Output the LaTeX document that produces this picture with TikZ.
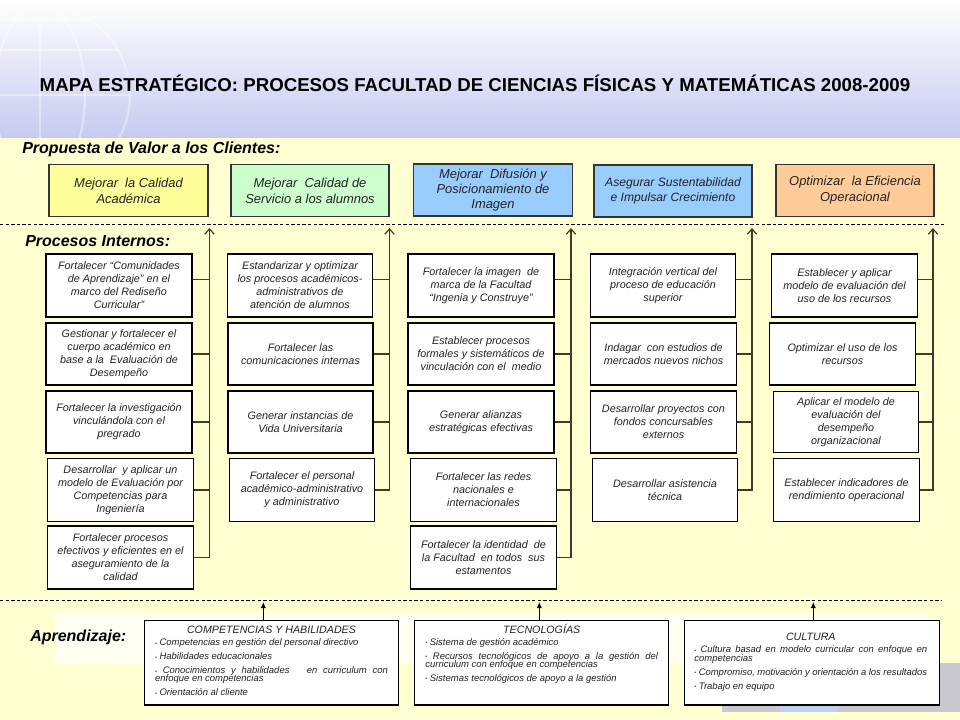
\documentclass[tikz,border=0pt]{standalone}
\usepackage{fontspec}
\setmainfont{Liberation Sans}
\usetikzlibrary{arrows.meta,calc}
\definecolor{bgyel}{RGB}{255,255,210}
\definecolor{hdrlav}{RGB}{198,202,240}
\definecolor{cyel}{RGB}{255,255,153}
\definecolor{cgrn}{RGB}{204,255,204}
\definecolor{cblu}{RGB}{153,204,255}
\definecolor{corg}{RGB}{255,204,153}
\definecolor{linec}{RGB}{64,58,38}
\definecolor{txt}{RGB}{35,35,35}
\definecolor{decgray}{RGB}{200,200,206}
\definecolor{decblue}{RGB}{188,210,244}
\newcommand{\itm}{\raisebox{0.5pt}{\scalebox{0.55}{•}}~}
\newcommand{\lset}{\parindent=0pt\lineskiplimit=-20pt\lineskip=0pt\parskip=4.4pt\relax}
\newcommand{\ltitle}[1]{{\centering\fontsize{8}{6.1}\selectfont #1\par}}
\begin{document}
\begin{tikzpicture}[x=0.75pt,y=-0.75pt,
  sz/.style 2 args={minimum width=#1*0.75pt, minimum height=#2*0.75pt},
  pbox/.style={draw=black, line width=0.8pt, fill=white, text=txt, inner sep=0pt, align=center,
    font=\fontsize{8.1}{9.75}\selectfont\itshape},
  vbox/.style={draw=black!80, line width=0.8pt, text=txt, inner sep=0pt, align=center,
    font=\fontsize{9.7}{12}\selectfont\itshape},
  lbox/.style={draw=black, line width=0.8pt, fill=white, inner sep=0pt},
  ltext/.style={anchor=base, inner sep=0pt, text width=174.5pt, align=justify, text=txt,
    font=\fontsize{7.1}{6.1}\selectfont\itshape},
  sect/.style={anchor=base west, inner sep=0pt, font=\fontsize{12}{14}\selectfont\bfseries\itshape},
  conn/.style={draw=linec, line width=0.9pt},
  uparr/.style={conn, -{Straight Barb[length=4pt,width=7pt]}},
  smarr/.style={draw=black, line width=0.8pt, -{Latex[length=4.5pt,width=4pt]}},
  dashline/.style={draw=black, line width=0.75pt, dash pattern=on 2.6pt off 1.6pt}]

\useasboundingbox (0,0) rectangle (960,720);
% background
\fill[bgyel] (0,0) rectangle (960,720);
\shade[top color=white, bottom color=hdrlav] (0,0) rectangle (960,138);
\begin{scope}
  \clip (0,0) rectangle (960,138);
  \draw[white, opacity=0.4, line width=1.6pt] (40,95) circle [radius=90];
  \draw[white, opacity=0.4, line width=1.6pt] (40,95) ellipse [x radius=45, y radius=90];
  \draw[white, opacity=0.4, line width=1.6pt] (40,5) -- (40,185);
  \begin{scope}
    \clip (40,95) circle [radius=90];
    \draw[white, opacity=0.4, line width=1.6pt] (-60,50) -- (140,50) (-60,95) -- (140,95) (-60,20) -- (140,20);
  \end{scope}
\end{scope}
\fill[decgray] (722,663) rectangle (960,712);
\fill[decblue] (780,663) rectangle (838,712);
\fill[white, opacity=0.7] (55,613) rectangle (928,663);

% title and section labels
\node[anchor=base, inner sep=0pt, font=\fontsize{14}{16}\selectfont\bfseries] (title) at (475,91.5)
  {MAPA ESTRATÉGICO: PROCESOS FACULTAD DE CIENCIAS FÍSICAS Y MATEMÁTICAS 2008-2009};
\node[sect] (s1) at (22,154) {Propuesta de Valor a los Clientes:};
\node[sect] (s2) at (25,246.5) {Procesos Internos:};
\node[sect] (s3) at (30,641) {Aprendizaje:};

% separators
\draw[dashline] (0,225) -- (946,225);
\draw[dashline] (0,600.5) -- (942,600.5);

% value boxes
\node[vbox, fill=cyel, sz={159}{52}] (v1) at (128.5,190.5) {Mejorar\ \ la Calidad\\Académica};
\node[vbox, fill=cgrn, sz={158}{52}] (v2) at (310,190.5) {Mejorar\ \ Calidad de\\Servicio a los alumnos};
\node[vbox, fill=cblu, sz={159}{52}, font=\fontsize{9.7}{11.3}\selectfont\itshape] (v3) at (493,190) {Mejorar\ \ Difusión y\\Posicionamiento de\\Imagen};
\node[vbox, fill=cblu, sz={158}{52}, font=\fontsize{9.1}{11.2}\selectfont\itshape] (v4) at (673,191) {Asegurar Sustentabilidad\\e Impulsar Crecimiento};
\node[vbox, fill=corg, sz={158}{52}] (v5) at (855,190.5) {Optimizar\ \ la Eficiencia\\Operacional};

% arrow tips
\coordinate (a1) at (209.5,228);
\coordinate (a2) at (389.5,228);
\coordinate (a3) at (571,228);
\coordinate (a4) at (752,228);
\coordinate (a5) at (933,228);

% column 1
\node[pbox, sz={146}{63}] (c1r1) at (119,285.5) {Fortalecer “Comunidades\\de Aprendizaje” en el\\marco del Rediseño\\Curricular”};
\node[pbox, sz={146}{62}] (c1r2) at (119,354) {Gestionar y fortalecer el\\cuerpo académico en\\base a la\ \ Evaluación de\\Desempeño};
\node[pbox, sz={146}{62}] (c1r3) at (119,422) {Fortalecer la investigación\\vinculándola con el\\pregrado};
\node[pbox, sz={146}{63}] (c1r4) at (120.5,490) {Desarrollar\ \ y aplicar un\\modelo de Evaluación por\\Competencias para\\Ingeniería};
\node[pbox, sz={146}{63}] (c1r5) at (120.5,557.5) {Fortalecer procesos\\efectivos y eficientes en el\\aseguramiento de la\\calidad};

% column 2
\node[pbox, sz={145}{63}] (c2r1) at (300,285.5) {Estandarizar y optimizar\\los procesos académicos-\\administrativos de\\atención de alumnos};
\node[pbox, sz={145}{62}] (c2r2) at (300.5,354) {Fortalecer las\\comunicaciones internas};
\node[pbox, sz={145}{62}] (c2r3) at (300.5,422) {Generar instancias de\\Vida Universitaria};
\node[pbox, sz={145}{63}] (c2r4) at (302,490) {Fortalecer el personal\\académico-administrativo\\y administrativo};

% column 3
\node[pbox, sz={146}{63}] (c3r1) at (481,285.5) {Fortalecer la imagen\ \ de\\marca de la Facultad\\“Ingenia y Construye”};
\node[pbox, sz={146}{62}] (c3r2) at (481,354) {Establecer procesos\\formales y sistemáticos de\\vinculación con el\ \ medio};
\node[pbox, sz={146}{62}] (c3r3) at (481,422) {Generar alianzas\\estratégicas efectivas};
\node[pbox, sz={146}{63}] (c3r4) at (483.5,490) {Fortalecer las redes\\nacionales e\\internacionales};
\node[pbox, sz={146}{63}] (c3r5) at (483.5,557.5) {Fortalecer la identidad\ \ de\\la Facultad\ \ en todos\ \ sus\\estamentos};

% column 4
\node[pbox, sz={145}{63}] (c4r1) at (663,285.5) {Integración vertical del\\proceso de educación\\superior};
\node[pbox, sz={146}{62}] (c4r2) at (663.5,354) {Indagar\ \ con estudios de\\mercados nuevos nichos};
\node[pbox, sz={146}{62}] (c4r3) at (663.5,422) {Desarrollar proyectos con\\fondos concursables\\externos};
\node[pbox, sz={145}{63}] (c4r4) at (665,490) {Desarrollar asistencia\\técnica};

% column 5
\node[pbox, sz={146}{63}] (c5r1) at (844.5,285.5) {Establecer y aplicar\\modelo de evaluación del\\uso de los recursos};
\node[pbox, sz={146}{62}] (c5r2) at (842.5,354) {Optimizar el uso de los\\recursos};
\node[pbox, sz={145}{61}] (c5r3) at (846,422) {Aplicar el modelo de\\evaluación del\\desempeño\\organizacional};
\node[pbox, sz={146}{63}] (c5r4) at (846.5,490) {Establecer indicadores de\\rendimiento operacional};

% connectors column 1
\draw[conn] ([yshift=4.5pt]c1r1.east) -- ([yshift=4.5pt]c1r1.east -| a1);
\draw[conn] (c1r2.east) -- (c1r2.east -| a1);
\draw[conn] (c1r3.east) -- (c1r3.east -| a1);
\draw[conn] (c1r4.east) -- (c1r4.east -| a1);
\draw[uparr] (c1r5.east) -- (c1r5.east -| a1) -- (a1);
% column 2
\draw[conn] ([yshift=4.5pt]c2r1.east) -- ([yshift=4.5pt]c2r1.east -| a2);
\draw[conn] (c2r2.east) -- (c2r2.east -| a2);
\draw[conn] (c2r3.east) -- (c2r3.east -| a2);
\draw[uparr] (c2r4.east) -- (c2r4.east -| a2) -- (a2);
% column 3
\draw[conn] ([yshift=4.5pt]c3r1.east) -- ([yshift=4.5pt]c3r1.east -| a3);
\draw[conn] (c3r2.east) -- (c3r2.east -| a3);
\draw[conn] (c3r3.east) -- (c3r3.east -| a3);
\draw[conn] (c3r4.east) -- (c3r4.east -| a3);
\draw[uparr] (c3r5.east) -- (c3r5.east -| a3) -- (a3);
% column 4
\draw[conn] ([yshift=4.5pt]c4r1.east) -- ([yshift=4.5pt]c4r1.east -| a4);
\draw[conn] (c4r2.east) -- (c4r2.east -| a4);
\draw[conn] (c4r3.east) -- (c4r3.east -| a4);
\draw[uparr] (c4r4.east) -- (c4r4.east -| a4) -- (a4);
% column 5
\draw[conn] ([yshift=4.5pt]c5r1.east) -- ([yshift=4.5pt]c5r1.east -| a5);
\draw[conn] (c5r2.east) -- (c5r2.east -| a5);
\draw[conn] (c5r3.east) -- (c5r3.east -| a5);
\draw[uparr] (c5r4.east) -- (c5r4.east -| a5) -- (a5);

% learning boxes
\node[lbox, sz={254}{84.3}] (l1) at (271.3,662.85) {};
\node[lbox, sz={254}{84.3}] (l2) at (541.2,662.85) {};
\node[lbox, sz={254.7}{84.3}] (l3) at (811.7,662.85) {};

\node[ltext] (l1c) at (271.5,633.8) {\lset\ltitle{COMPETENCIAS Y HABILIDADES}\vspace{-1.6pt}
\itm Competencias en gestión del personal directivo\par
\itm Habilidades educacionales\par
\itm Conocimientos y habilidades\ \ \ en curriculum con\linebreak enfoque en competencias\par
\itm Orientación al cliente\par};

\node[ltext] (l2c) at (541.7,633.3) {\lset\ltitle{TECNOLOGÍAS}\vspace{-1.6pt}
\itm Sistema de gestión académico\par
\itm Recursos tecnológicos de apoyo a la gestión del\linebreak curriculum con enfoque en competencias\par
\itm Sistemas tecnológicos de apoyo a la gestión\par};

\node[ltext] (l3c) at (810.8,640) {\lset\ltitle{CULTURA}\vspace{-0.8pt}
\itm Cultura basad en modelo curricular con enfoque en\linebreak competencias\par
\itm Compromiso,\ motivación y orientación a los resultados\par
\itm Trabajo en equipo\par};

\coordinate (la1) at (263.3,602);
\coordinate (la2) at (539.3,602);
\coordinate (la3) at (813.3,602);
\draw[smarr] (l1.north -| la1) -- (la1);
\draw[smarr] (l2.north -| la2) -- (la2);
\draw[smarr] (l3.north -| la3) -- (la3);
\end{tikzpicture}
\end{document}
